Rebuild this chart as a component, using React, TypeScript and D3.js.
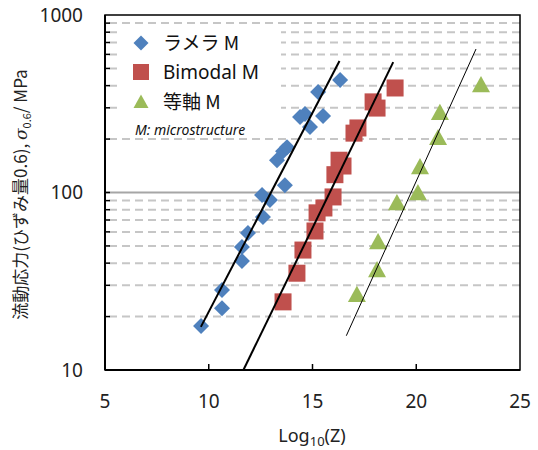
import * as d3 from "d3";

// flow stress vs Zener-Hollomon parameter, three microstructures
const lamellaZ = [9.63, 10.64, 10.64, 11.6, 11.6, 11.89, 12.61, 12.57, 12.95, 13.67, 13.29, 13.58, 13.77, 14.88, 14.4, 14.64, 15.51, 15.27, 16.33];
const lamellaS = [17.7, 22.3, 28.2, 41.1, 49.3, 59.2, 72.8, 96.8, 90.8, 110, 152, 171, 180, 234, 266, 277, 270, 368, 430];

const bimodalZ = [13.58, 14.25, 14.54, 15.12, 15.22, 15.55, 15.99, 16.08, 16.28, 16.47, 17.0, 17.19, 17.92, 18.11, 18.98];
const bimodalS = [24.2, 35.1, 47.4, 60.7, 76.8, 81.8, 94.4, 126, 152, 141, 216, 231, 324, 299, 388];

const equiaxedZ = [17.14, 18.11, 18.16, 19.07, 20.08, 20.18, 21.05, 21.14, 23.12];
const equiaxedS = [26.5, 36.6, 52.6, 87.3, 99.3, 139, 203, 281, 403];

// fitted lines, [start, end]
const lamellaFitZ = [9.62, 16.3];
const lamellaFitS = [17.5, 550];
const bimodalFitZ = [11.67, 18.89];
const bimodalFitS = [10, 543];
const equiaxedFitZ = [16.63, 22.88];
const equiaxedFitS = [15.6, 643];

const xTicks = [5, 10, 15, 20, 25];
const yTicks = [10, 100, 1000];
const minorY = [20, 30, 40, 50, 60, 70, 80, 90, 200, 300, 400, 500, 600, 700, 800, 900];

const BLUE = "#4f81bd";
const RED = "#c0504d";
const GREEN = "#9bbb59";

const W = 538;
const H = 450;
const left = 105, right = 520, top = 15, bottom = 370;

const x = d3.scaleLinear().domain([5, 25]).range([left, right]);
const y = d3.scaleLog().domain([10, 1000]).range([bottom, top]);

const font = "'Noto Sans', 'Noto Sans CJK JP', sans-serif";
const jpFont = "'Noto Sans CJK JP', 'Noto Sans', sans-serif";

const diamond = (cx: number, cy: number, r = 8) =>
  `M${cx},${cy - r}L${cx + r},${cy}L${cx},${cy + r}L${cx - r},${cy}Z`;
const triangle = (cx: number, cy: number, r = 9) =>
  `M${cx},${cy - r}L${cx + r},${cy + r * 0.8}L${cx - r},${cy + r * 0.8}Z`;

const fitLine = (zs: number[], ss: number[]) =>
  d3.line<number>().x((_, i) => x(zs[i])).y((s) => y(s))(ss) ?? "";

export default function App() {
  return (
    <svg width={W} height={H} style={{ position: "absolute", left: 0, top: 0, background: "#fff" }}>
      {/* grid */}
      {minorY.map((v) => (
        <line key={v} x1={left} x2={right} y1={y(v)} y2={y(v)}
          stroke="#c6c6c6" strokeWidth={2} strokeDasharray="8,5" strokeDashoffset={-4} />
      ))}
      <line x1={left} x2={right} y1={y(100)} y2={y(100)} stroke="#a6a6a6" strokeWidth={2} />

      {/* legend background */}
      <rect x={117} y={27} width={164} height={108} fill="#fff" />

      {/* markers */}
      {lamellaZ.map((z, i) => (
        <path key={"l" + i} d={diamond(x(z), y(lamellaS[i]))} fill={BLUE} />
      ))}
      {bimodalZ.map((z, i) => (
        <rect key={"b" + i} x={x(z) - 8.5} y={y(bimodalS[i]) - 8.5} width={17} height={17} fill={RED} />
      ))}
      {equiaxedZ.map((z, i) => (
        <path key={"e" + i} d={triangle(x(z), y(equiaxedS[i]))} fill={GREEN} />
      ))}

      {/* fits */}
      <path d={fitLine(lamellaFitZ, lamellaFitS)} stroke="#000" strokeWidth={2} fill="none" />
      <path d={fitLine(bimodalFitZ, bimodalFitS)} stroke="#000" strokeWidth={2} fill="none" />
      <path d={fitLine(equiaxedFitZ, equiaxedFitS)} stroke="#000" strokeWidth={1} fill="none" />

      {/* frame */}
      <rect x={left} y={top} width={right - left} height={bottom - top} fill="none" stroke="#000" strokeWidth={1.5} />
      <line x1={left} x2={left} y1={top} y2={bottom} stroke="#000" strokeWidth={2} />
      <line x1={left} x2={right} y1={bottom} y2={bottom} stroke="#000" strokeWidth={2} />

      {/* y ticks inside */}
      {minorY.concat([100]).map((v) => (
        <line key={"t" + v} x1={left} x2={left + 5} y1={y(v)} y2={y(v)} stroke="#000" strokeWidth={1.5} />
      ))}
      {xTicks.slice(1, -1).map((v) => (
        <line key={"xt" + v} x1={x(v)} x2={x(v)} y1={bottom} y2={bottom - 6} stroke="#000" strokeWidth={1.5} />
      ))}

      {/* tick labels */}
      {yTicks.map((v) => (
        <text key={"yl" + v} x={83} y={y(v)} dy="0.36em" textAnchor="end"
          fontFamily={font} fontSize={19} fill="#222">{v}</text>
      ))}
      {xTicks.map((v) => (
        <text key={"xl" + v} x={x(v)} y={408} textAnchor="middle"
          fontFamily={font} fontSize={19} fill="#222">{v}</text>
      ))}

      {/* axis titles */}
      <text x={312} y={442} textAnchor="middle" fontFamily={font} fontSize={18} fill="#222">
        Log<tspan fontSize={13} dy={4}>10</tspan><tspan dy={-4}>(Z)</tspan>
      </text>
      <text transform={`translate(27,${(top + bottom) / 2 + 2}) rotate(-90)`} textAnchor="middle"
        fontFamily={jpFont} fontSize={17} fill="#222">
        流動応力(ひずみ量0.6),{" "}
        <tspan fontStyle="italic" fontFamily="'DejaVu Serif', serif">σ</tspan>
        <tspan fontSize={11} dy={4}>0.6</tspan>
        <tspan dy={-4}>/ MPa</tspan>
      </text>

      {/* legend */}
      <path d={diamond(141, 43, 7.5)} fill={BLUE} />
      <text x={163} y={43} dy="0.36em" fontFamily={jpFont} fontSize={19} fill="#111">ラメラ M</text>
      <rect x={133} y={64} width={16} height={16} fill={RED} />
      <text x={163} y={72} dy="0.36em" fontFamily={font} fontSize={19} fill="#111">Bimodal M</text>
      <path d={triangle(141, 102, 7.5)} fill={GREEN} />
      <text x={163} y={102} dy="0.36em" fontFamily={jpFont} fontSize={19} fill="#111">等軸 M</text>
      <text x={135} y={130} dy="0.36em" fontFamily={font} fontStyle="italic" fontSize={14} fill="#111">
        M: microstructure
      </text>
    </svg>
  );
}
